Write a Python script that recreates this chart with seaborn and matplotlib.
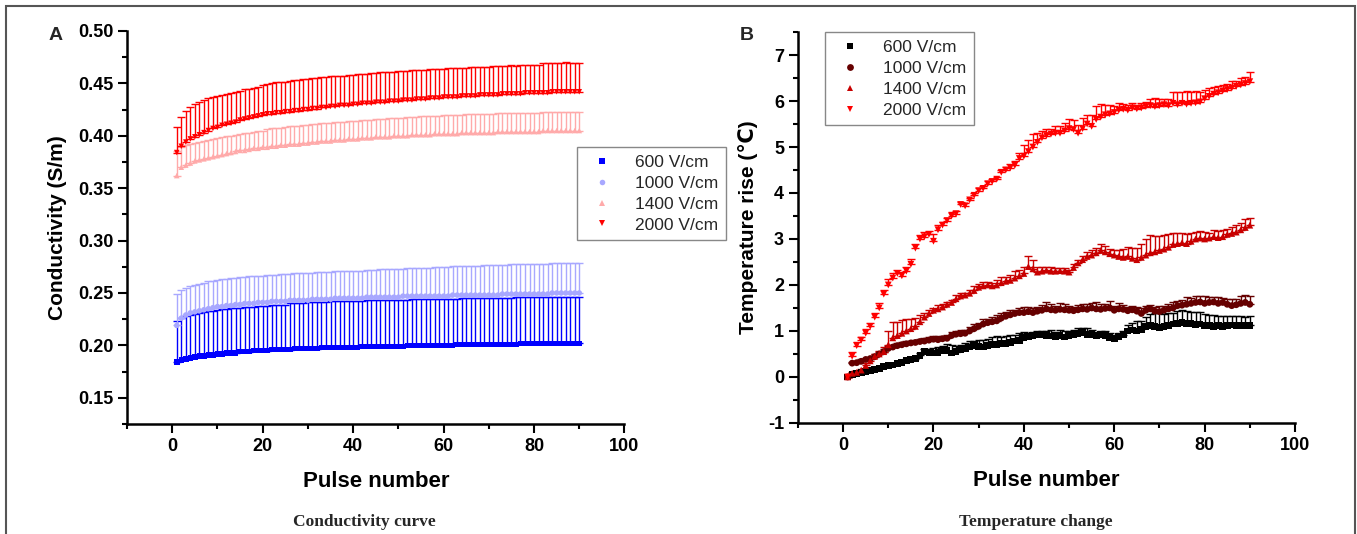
#!/usr/bin/env python3
"""
Conductivity and temperature rise vs pulse number (two panels)
Usage: python plot.py
"""

import matplotlib.pyplot as plt
from matplotlib.patches import Rectangle
from matplotlib.ticker import MultipleLocator, FormatStrFormatter
import seaborn as sns
import pandas as pd
import numpy as np

sns.set_theme(style="ticks")
plt.rcParams['font.family'] = ['Liberation Sans', 'DejaVu Sans']
plt.rcParams['font.weight'] = 'bold'       # tick labels are bold in the original
plt.rcParams['axes.unicode_minus'] = False

pulses = list(range(1, 91))
fields = ['600 V/cm', '1000 V/cm', '1400 V/cm', '2000 V/cm']

# ---- Panel A: conductivity (S/m), mean and upper SD ----
cond_600 = [0.184, 0.186, 0.187, 0.188, 0.189, 0.190, 0.190, 0.191, 0.191, 0.192,
            0.192, 0.193, 0.193, 0.193, 0.194, 0.194, 0.194, 0.195, 0.195, 0.195,
            0.195, 0.196, 0.196, 0.196, 0.196, 0.196, 0.197, 0.197, 0.197, 0.197,
            0.197, 0.197, 0.198, 0.198, 0.198, 0.198, 0.198, 0.198, 0.198, 0.198,
            0.198, 0.199, 0.199, 0.199, 0.199, 0.199, 0.199, 0.199, 0.199, 0.199,
            0.199, 0.200, 0.200, 0.200, 0.200, 0.200, 0.200, 0.200, 0.200, 0.200,
            0.200, 0.200, 0.201, 0.201, 0.201, 0.201, 0.201, 0.201, 0.201, 0.201,
            0.201, 0.201, 0.201, 0.201, 0.201, 0.201, 0.202, 0.202, 0.202, 0.202,
            0.202, 0.202, 0.202, 0.202, 0.202, 0.202, 0.202, 0.202, 0.202, 0.202]
cond_600_sd = [0.039, 0.040, 0.041, 0.041, 0.041, 0.041, 0.042, 0.042, 0.042, 0.042,
               0.043, 0.042, 0.043, 0.043, 0.042, 0.043, 0.043, 0.042, 0.043, 0.043,
               0.043, 0.043, 0.043, 0.043, 0.043, 0.044, 0.043, 0.043, 0.043, 0.044,
               0.044, 0.044, 0.043, 0.043, 0.044, 0.044, 0.044, 0.044, 0.044, 0.044,
               0.044, 0.043, 0.044, 0.044, 0.044, 0.044, 0.044, 0.044, 0.044, 0.044,
               0.044, 0.043, 0.044, 0.044, 0.044, 0.044, 0.044, 0.044, 0.044, 0.044,
               0.044, 0.044, 0.043, 0.044, 0.044, 0.044, 0.044, 0.044, 0.044, 0.044,
               0.044, 0.044, 0.044, 0.044, 0.044, 0.045, 0.044, 0.044, 0.044, 0.044,
               0.044, 0.044, 0.044, 0.044, 0.044, 0.044, 0.044, 0.044, 0.044, 0.044]

cond_1000 = [0.219, 0.226, 0.229, 0.231, 0.232, 0.233, 0.234, 0.235, 0.236, 0.237,
             0.237, 0.238, 0.238, 0.239, 0.239, 0.240, 0.240, 0.240, 0.241, 0.241,
             0.241, 0.242, 0.242, 0.242, 0.242, 0.243, 0.243, 0.243, 0.243, 0.243,
             0.244, 0.244, 0.244, 0.244, 0.244, 0.245, 0.245, 0.245, 0.245, 0.245,
             0.245, 0.245, 0.246, 0.246, 0.246, 0.246, 0.246, 0.246, 0.246, 0.246,
             0.247, 0.247, 0.247, 0.247, 0.247, 0.247, 0.247, 0.247, 0.247, 0.247,
             0.247, 0.248, 0.248, 0.248, 0.248, 0.248, 0.248, 0.248, 0.248, 0.248,
             0.248, 0.248, 0.249, 0.249, 0.249, 0.249, 0.249, 0.249, 0.249, 0.249,
             0.249, 0.249, 0.249, 0.250, 0.250, 0.250, 0.250, 0.250, 0.250, 0.250]
cond_1000_sd = [0.030, 0.027, 0.026, 0.026, 0.026, 0.026, 0.026, 0.026, 0.025, 0.025,
                0.026, 0.025, 0.026, 0.025, 0.026, 0.025, 0.026, 0.026, 0.025, 0.025,
                0.026, 0.025, 0.025, 0.026, 0.026, 0.025, 0.026, 0.026, 0.026, 0.026,
                0.025, 0.026, 0.026, 0.026, 0.026, 0.026, 0.026, 0.026, 0.026, 0.026,
                0.026, 0.026, 0.026, 0.026, 0.026, 0.027, 0.027, 0.027, 0.027, 0.027,
                0.026, 0.027, 0.027, 0.027, 0.027, 0.027, 0.027, 0.028, 0.028, 0.028,
                0.028, 0.028, 0.028, 0.028, 0.028, 0.028, 0.028, 0.028, 0.029, 0.029,
                0.029, 0.029, 0.028, 0.028, 0.029, 0.029, 0.029, 0.029, 0.029, 0.029,
                0.029, 0.029, 0.029, 0.029, 0.029, 0.029, 0.029, 0.029, 0.029, 0.029]

cond_1400 = [0.362, 0.370, 0.372, 0.374, 0.376, 0.377, 0.378, 0.379, 0.380, 0.381,
             0.382, 0.383, 0.384, 0.385, 0.386, 0.386, 0.387, 0.388, 0.388, 0.389,
             0.389, 0.390, 0.390, 0.391, 0.391, 0.392, 0.392, 0.392, 0.393, 0.393,
             0.394, 0.394, 0.395, 0.395, 0.395, 0.396, 0.396, 0.396, 0.397, 0.397,
             0.397, 0.398, 0.398, 0.398, 0.399, 0.399, 0.399, 0.399, 0.400, 0.400,
             0.400, 0.400, 0.401, 0.401, 0.401, 0.401, 0.401, 0.402, 0.402, 0.402,
             0.402, 0.402, 0.402, 0.403, 0.403, 0.403, 0.403, 0.403, 0.403, 0.403,
             0.403, 0.404, 0.404, 0.404, 0.404, 0.404, 0.404, 0.404, 0.404, 0.404,
             0.404, 0.405, 0.405, 0.405, 0.405, 0.405, 0.405, 0.405, 0.405, 0.405]
cond_1400_sd = [0.023, 0.019, 0.019, 0.018, 0.017, 0.017, 0.017, 0.017, 0.017, 0.017,
                0.017, 0.017, 0.016, 0.016, 0.016, 0.017, 0.016, 0.016, 0.017, 0.016,
                0.017, 0.017, 0.017, 0.016, 0.017, 0.017, 0.017, 0.017, 0.017, 0.017,
                0.017, 0.017, 0.017, 0.017, 0.017, 0.017, 0.017, 0.017, 0.017, 0.017,
                0.017, 0.017, 0.017, 0.017, 0.017, 0.017, 0.017, 0.018, 0.017, 0.017,
                0.017, 0.018, 0.017, 0.017, 0.018, 0.018, 0.018, 0.017, 0.017, 0.018,
                0.018, 0.018, 0.018, 0.017, 0.018, 0.018, 0.018, 0.018, 0.018, 0.018,
                0.018, 0.018, 0.018, 0.018, 0.018, 0.018, 0.018, 0.018, 0.018, 0.018,
                0.018, 0.018, 0.018, 0.018, 0.018, 0.018, 0.018, 0.018, 0.018, 0.018]

cond_2000 = [0.384, 0.390, 0.394, 0.397, 0.399, 0.401, 0.403, 0.405, 0.407, 0.408,
             0.410, 0.411, 0.412, 0.413, 0.415, 0.416, 0.417, 0.418, 0.419, 0.420,
             0.421, 0.421, 0.422, 0.422, 0.423, 0.423, 0.424, 0.424, 0.425, 0.425,
             0.426, 0.426, 0.427, 0.427, 0.428, 0.428, 0.429, 0.429, 0.429, 0.430,
             0.430, 0.431, 0.431, 0.431, 0.432, 0.432, 0.432, 0.433, 0.433, 0.433,
             0.434, 0.434, 0.434, 0.435, 0.435, 0.435, 0.436, 0.436, 0.436, 0.437,
             0.437, 0.437, 0.437, 0.438, 0.438, 0.438, 0.438, 0.439, 0.439, 0.439,
             0.439, 0.439, 0.440, 0.440, 0.440, 0.440, 0.440, 0.441, 0.441, 0.441,
             0.441, 0.441, 0.441, 0.442, 0.442, 0.442, 0.442, 0.442, 0.442, 0.442]
cond_2000_sd = [0.024, 0.028, 0.030, 0.030, 0.031, 0.031, 0.031, 0.031, 0.030, 0.030,
                0.029, 0.029, 0.029, 0.029, 0.028, 0.029, 0.028, 0.028, 0.028, 0.028,
                0.028, 0.029, 0.029, 0.029, 0.028, 0.029, 0.029, 0.029, 0.029, 0.029,
                0.029, 0.029, 0.029, 0.029, 0.029, 0.029, 0.028, 0.028, 0.029, 0.028,
                0.029, 0.028, 0.028, 0.029, 0.028, 0.029, 0.029, 0.028, 0.028, 0.029,
                0.028, 0.028, 0.029, 0.028, 0.028, 0.028, 0.028, 0.028, 0.028, 0.027,
                0.028, 0.028, 0.028, 0.027, 0.027, 0.028, 0.028, 0.027, 0.027, 0.027,
                0.028, 0.028, 0.027, 0.027, 0.028, 0.027, 0.028, 0.027, 0.027, 0.027,
                0.027, 0.028, 0.028, 0.027, 0.027, 0.027, 0.028, 0.027, 0.027, 0.027]

# ---- Panel B: temperature rise (C), mean and upper SD ----
temp_600 = [0.00, 0.05, 0.08, 0.10, 0.12, 0.14, 0.16, 0.19, 0.22, 0.25,
            0.26, 0.29, 0.32, 0.36, 0.38, 0.40, 0.47, 0.55, 0.53, 0.52,
            0.54, 0.58, 0.57, 0.52, 0.55, 0.60, 0.62, 0.65, 0.68, 0.66,
            0.65, 0.68, 0.70, 0.70, 0.72, 0.73, 0.75, 0.78, 0.80, 0.86,
            0.88, 0.90, 0.92, 0.91, 0.90, 0.89, 0.88, 0.90, 0.87, 0.90,
            0.93, 0.95, 0.97, 0.93, 0.92, 0.90, 0.92, 0.90, 0.85, 0.84,
            0.88, 0.92, 1.00, 1.02, 1.00, 1.04, 1.10, 1.12, 1.10, 1.08,
            1.10, 1.12, 1.15, 1.17, 1.18, 1.16, 1.17, 1.14, 1.15, 1.12,
            1.12, 1.10, 1.11, 1.10, 1.12, 1.13, 1.11, 1.12, 1.12, 1.12]
temp_600_sd = [0.00, 0.02, 0.02, 0.03, 0.02, 0.03, 0.03, 0.02, 0.03, 0.03,
               0.03, 0.02, 0.03, 0.03, 0.04, 0.04, 0.05, 0.06, 0.08, 0.10,
               0.12, 0.10, 0.15, 0.18, 0.12, 0.10, 0.12, 0.13, 0.10, 0.15,
               0.16, 0.14, 0.16, 0.18, 0.15, 0.17, 0.16, 0.14, 0.15, 0.12,
               0.08, 0.07, 0.08, 0.09, 0.10, 0.12, 0.10, 0.11, 0.12, 0.10,
               0.10, 0.12, 0.10, 0.14, 0.10, 0.08, 0.08, 0.09, 0.10, 0.08,
               0.07, 0.08, 0.12, 0.15, 0.22, 0.18, 0.20, 0.25, 0.28, 0.30,
               0.26, 0.28, 0.25, 0.27, 0.28, 0.27, 0.25, 0.28, 0.26, 0.25,
               0.22, 0.24, 0.22, 0.22, 0.20, 0.20, 0.21, 0.20, 0.18, 0.20]

temp_1000 = [0.00, 0.30, 0.31, 0.34, 0.38, 0.40, 0.44, 0.50, 0.55, 0.62,
             0.65, 0.68, 0.70, 0.72, 0.74, 0.75, 0.77, 0.78, 0.80, 0.82,
             0.81, 0.83, 0.84, 0.90, 0.93, 0.94, 0.95, 1.00, 1.05, 1.10,
             1.15, 1.18, 1.20, 1.22, 1.28, 1.32, 1.35, 1.38, 1.40, 1.40,
             1.42, 1.40, 1.43, 1.45, 1.48, 1.46, 1.45, 1.47, 1.46, 1.45,
             1.44, 1.46, 1.48, 1.47, 1.50, 1.48, 1.47, 1.49, 1.50, 1.45,
             1.48, 1.47, 1.44, 1.46, 1.43, 1.38, 1.45, 1.48, 1.43, 1.42,
             1.45, 1.48, 1.50, 1.55, 1.56, 1.58, 1.60, 1.62, 1.63, 1.60,
             1.62, 1.63, 1.60, 1.62, 1.58, 1.55, 1.57, 1.60, 1.62, 1.58]
temp_1000_sd = [0.00, 0.02, 0.03, 0.04, 0.03, 0.04, 0.05, 0.04, 0.05, 0.06,
                0.05, 0.06, 0.05, 0.06, 0.05, 0.06, 0.05, 0.06, 0.07, 0.06,
                0.08, 0.07, 0.08, 0.07, 0.06, 0.08, 0.07, 0.08, 0.10, 0.08,
                0.10, 0.09, 0.10, 0.12, 0.10, 0.09, 0.10, 0.08, 0.10, 0.12,
                0.10, 0.11, 0.10, 0.12, 0.15, 0.12, 0.10, 0.14, 0.12, 0.10,
                0.08, 0.10, 0.10, 0.12, 0.10, 0.14, 0.12, 0.10, 0.15, 0.10,
                0.12, 0.10, 0.08, 0.08, 0.10, 0.12, 0.10, 0.08, 0.10, 0.12,
                0.10, 0.10, 0.12, 0.10, 0.12, 0.15, 0.12, 0.14, 0.12, 0.15,
                0.12, 0.10, 0.14, 0.10, 0.12, 0.14, 0.12, 0.15, 0.16, 0.18]

temp_1400 = [0.00, 0.08, 0.10, 0.15, 0.25, 0.35, 0.45, 0.50, 0.55, 0.70,
             0.85, 0.90, 0.95, 1.00, 1.05, 1.10, 1.20, 1.30, 1.38, 1.45,
             1.48, 1.52, 1.58, 1.62, 1.70, 1.76, 1.78, 1.82, 1.88, 1.95,
             1.98, 2.00, 1.98, 2.00, 2.05, 2.08, 2.10, 2.15, 2.20, 2.25,
             2.40, 2.35, 2.28, 2.30, 2.32, 2.30, 2.30, 2.31, 2.30, 2.28,
             2.38, 2.48, 2.55, 2.62, 2.65, 2.70, 2.75, 2.72, 2.68, 2.65,
             2.62, 2.60, 2.62, 2.58, 2.55, 2.60, 2.65, 2.70, 2.72, 2.75,
             2.78, 2.82, 2.88, 2.90, 2.92, 2.90, 2.95, 3.00, 3.02, 3.00,
             3.02, 3.05, 3.03, 3.05, 3.10, 3.12, 3.15, 3.20, 3.25, 3.30]
temp_1400_sd = [0.00, 0.02, 0.03, 0.03, 0.05, 0.05, 0.05, 0.06, 0.10, 0.30,
                0.35, 0.30, 0.28, 0.25, 0.22, 0.18, 0.15, 0.10, 0.08, 0.06,
                0.08, 0.06, 0.05, 0.06, 0.08, 0.06, 0.05, 0.08, 0.10, 0.08,
                0.08, 0.06, 0.06, 0.10, 0.12, 0.10, 0.12, 0.15, 0.12, 0.15,
                0.22, 0.20, 0.10, 0.08, 0.06, 0.08, 0.06, 0.05, 0.06, 0.05,
                0.08, 0.06, 0.08, 0.10, 0.12, 0.10, 0.15, 0.12, 0.10, 0.10,
                0.15, 0.18, 0.20, 0.22, 0.25, 0.30, 0.35, 0.38, 0.35, 0.32,
                0.30, 0.28, 0.25, 0.22, 0.22, 0.20, 0.18, 0.15, 0.15, 0.15,
                0.12, 0.14, 0.15, 0.15, 0.12, 0.14, 0.15, 0.15, 0.18, 0.15]

temp_2000 = [0.00, 0.45, 0.68, 0.80, 0.95, 1.10, 1.30, 1.50, 1.80, 2.00,
             2.15, 2.25, 2.20, 2.30, 2.45, 2.80, 3.00, 3.05, 3.10, 2.95,
             3.20, 3.30, 3.40, 3.50, 3.55, 3.75, 3.72, 3.85, 3.95, 4.05,
             4.10, 4.20, 4.25, 4.30, 4.45, 4.50, 4.55, 4.60, 4.75, 4.80,
             4.90, 5.00, 5.10, 5.20, 5.25, 5.28, 5.30, 5.30, 5.35, 5.40,
             5.38, 5.30, 5.40, 5.50, 5.45, 5.60, 5.65, 5.70, 5.72, 5.75,
             5.80, 5.82, 5.80, 5.85, 5.83, 5.85, 5.88, 5.90, 5.88, 5.90,
             5.92, 5.90, 5.95, 5.92, 5.95, 5.93, 5.95, 5.96, 5.98, 6.05,
             6.10, 6.15, 6.18, 6.22, 6.25, 6.28, 6.32, 6.35, 6.38, 6.42]
temp_2000_sd = [0.00, 0.10, 0.08, 0.06, 0.10, 0.08, 0.10, 0.10, 0.10, 0.12,
                0.10, 0.08, 0.08, 0.10, 0.12, 0.10, 0.08, 0.10, 0.08, 0.15,
                0.10, 0.08, 0.06, 0.08, 0.06, 0.05, 0.06, 0.05, 0.05, 0.06,
                0.05, 0.05, 0.06, 0.05, 0.05, 0.06, 0.08, 0.10, 0.12, 0.25,
                0.25, 0.28, 0.20, 0.15, 0.15, 0.12, 0.15, 0.15, 0.18, 0.20,
                0.20, 0.18, 0.22, 0.20, 0.25, 0.30, 0.28, 0.22, 0.20, 0.15,
                0.15, 0.12, 0.12, 0.10, 0.08, 0.10, 0.10, 0.15, 0.18, 0.15,
                0.12, 0.15, 0.25, 0.28, 0.25, 0.28, 0.25, 0.25, 0.22, 0.20,
                0.18, 0.15, 0.15, 0.12, 0.12, 0.15, 0.12, 0.15, 0.15, 0.22]

colors_a = ['#0000ff', '#a8a8ff', '#ffaaaa', '#ff0000']
colors_b = ['#000000', '#660000', '#c80000', '#ff0000']
markers = ['s', 'o', '^', 'v']


def long_frame(means, sds):
    rows = []
    for field, m, s in zip(fields, means, sds):
        rows.append(pd.DataFrame({'pulse': pulses, 'value': m, 'sd': s, 'field': field}))
    return pd.concat(rows, ignore_index=True)


def draw_panel(ax, df, colors, msize):
    # one-sided (upper) error bars, then the markers on top
    for field, c in zip(fields, colors):
        sub = df[df['field'] == field]
        ax.errorbar(sub['pulse'], sub['value'], yerr=[np.zeros(len(sub)), sub['sd']],
                    fmt='none', ecolor=c, elinewidth=1.0, capsize=2.6, capthick=1.0, zorder=2)
    sns.scatterplot(data=df, x='pulse', y='value', hue='field', style='field',
                    hue_order=fields, style_order=fields, palette=colors,
                    markers=markers, s=msize, linewidth=0, ax=ax, zorder=3)
    sns.despine(ax=ax)
    ax.set_xlim(-10, 100)
    ax.xaxis.set_major_locator(MultipleLocator(20))
    ax.xaxis.set_minor_locator(MultipleLocator(10))
    for sp in ['left', 'bottom']:
        ax.spines[sp].set_linewidth(1.8)
        ax.spines[sp].set_color('black')
    ax.tick_params(which='major', length=6.5, width=1.5, direction='out',
                   labelsize=13, color='black', labelcolor='black')
    ax.tick_params(which='minor', length=3.5, width=1.5, direction='out', color='black')
    ax.set_xlabel('Pulse number', fontsize=16, fontweight='bold', color='black')
    ax.xaxis.set_label_coords(0.5, -0.12)


fig = plt.figure(figsize=(13.57, 5.34), dpi=100)
ax_a = fig.add_axes([0.0936, 0.206, 0.3666, 0.736])
ax_b = fig.add_axes([0.588, 0.208, 0.3663, 0.732])

df_a = long_frame([cond_600, cond_1000, cond_1400, cond_2000],
                  [cond_600_sd, cond_1000_sd, cond_1400_sd, cond_2000_sd])
df_b = long_frame([temp_600, temp_1000, temp_1400, temp_2000],
                  [temp_600_sd, temp_1000_sd, temp_1400_sd, temp_2000_sd])

legend_kw = dict(title=None, frameon=True, fancybox=False,
                 prop={'family': ['Liberation Sans', 'DejaVu Sans'], 'weight': 'normal', 'size': 12.5},
                 edgecolor='#888888', framealpha=1, borderpad=0.45, labelspacing=0.33,
                 handletextpad=0.9, borderaxespad=0)

# Panel A
draw_panel(ax_a, df_a, colors_a, 16)
ax_a.set_ylim(0.125, 0.50)
ax_a.yaxis.set_major_locator(MultipleLocator(0.05))
ax_a.yaxis.set_minor_locator(MultipleLocator(0.025))
ax_a.yaxis.set_major_formatter(FormatStrFormatter('%.2f'))
ax_a.set_ylabel('Conductivity (S/m)', fontsize=15, fontweight='bold', color='black')
ax_a.yaxis.set_label_coords(-0.12, 0.5)
sns.move_legend(ax_a, 'upper left', bbox_to_anchor=(0.905, 0.705), **legend_kw)

# Panel B
draw_panel(ax_b, df_b, colors_b, 24)
ax_b.set_ylim(-1, 7.5)
ax_b.yaxis.set_major_locator(MultipleLocator(1))
ax_b.yaxis.set_minor_locator(MultipleLocator(0.5))
ax_b.set_ylabel('Temperature rise (\u2103)', fontsize=15, fontweight='bold', color='black')
ax_b.yaxis.set_label_coords(-0.08, 0.5)
sns.move_legend(ax_b, 'upper left', bbox_to_anchor=(0.054, 1.0), **legend_kw)

# panel letters and captions
fig.text(56 / 1357, 1 - 35 / 534, 'A', fontsize=14, fontweight='bold', ha='center', va='center')
fig.text(747 / 1357, 1 - 35 / 534, 'B', fontsize=14, fontweight='bold', ha='center', va='center')
fig.text(364 / 1357, 1 - 522 / 534, 'Conductivity curve', family='Liberation Serif',
         fontsize=12.5, fontweight='bold', ha='center', va='center')
fig.text(1036 / 1357, 1 - 522 / 534, 'Temperature change', family='Liberation Serif',
         fontsize=12.5, fontweight='bold', ha='center', va='center')

# outer frame
fig.patches.append(Rectangle((6 / 1357, -0.05), 1349 / 1357, 1.05 - 6 / 534,
                             transform=fig.transFigure, fill=False,
                             edgecolor='#555555', linewidth=1.5))

fig.savefig('out.png', dpi=100)
print("Saved: out.png")
